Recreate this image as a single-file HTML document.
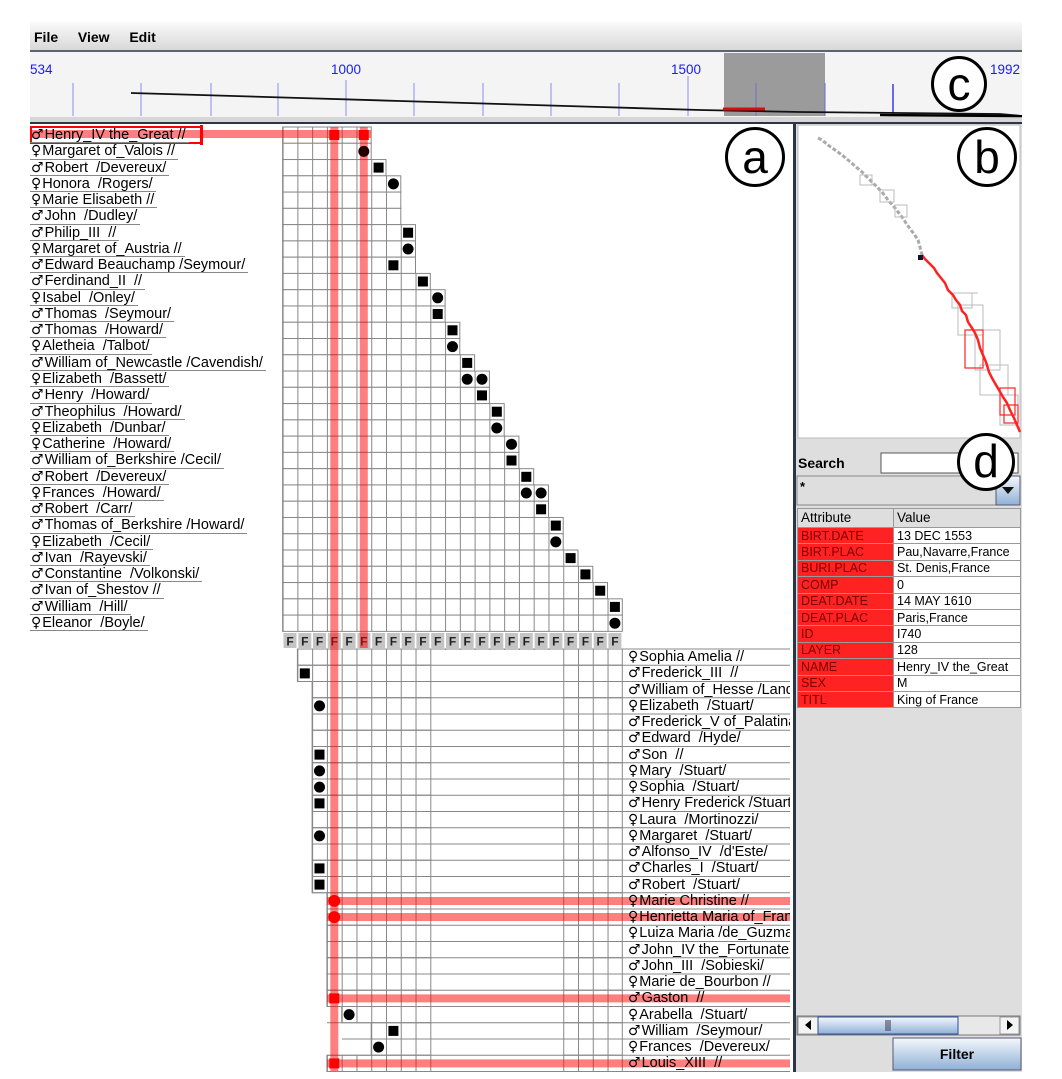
<!DOCTYPE html>
<html><head><meta charset="utf-8">
<style>
*{margin:0;padding:0;box-sizing:border-box}
body{width:1062px;height:1079px;background:#fff;position:relative;overflow:hidden;font-family:"Liberation Sans",Arial,sans-serif}
.abs{position:absolute}
.lbl{position:absolute;left:30px;top:127px;font-size:14.5px;color:#000}
.lbl div{height:16.27px;white-space:nowrap}
.lbl span{display:inline-block;height:16.27px;line-height:16px;border-bottom:1px solid #888;padding-left:1px;padding-right:3px}
.blbl{position:absolute;left:626px;top:649px;width:164px;overflow:hidden;font-size:14.5px}
.blbl div{height:16.25px;line-height:16px;white-space:nowrap;padding-left:2px}
.g{font-family:"DejaVu Sans",sans-serif;font-size:14px;font-weight:normal;margin-right:1px}
table.attr{position:absolute;left:797px;top:508px;width:224px;border-collapse:collapse;font-size:12.5px}
table.attr td{height:16.4px;border:1px solid #999;padding:0 3px;line-height:14px;white-space:nowrap;overflow:hidden}
table.attr td.a{background:#f22;color:#7a0000;width:96px}
table.attr td.v{background:#fff;color:#000}
table.attr tr.h td{background:#dedede;color:#000;height:19px;font-size:13.5px}
.circ{position:absolute;border:3px solid #000;border-radius:50%;background:#fff;text-align:center;font-size:46px;font-family:"Liberation Sans",sans-serif;line-height:50px}
</style></head><body>
<svg class="abs" style="left:0;top:0" width="1062" height="1079" xmlns="http://www.w3.org/2000/svg">
<defs>
<pattern id="vp" x="282.6" y="0" width="14.77" height="2000" patternUnits="userSpaceOnUse"><rect width="14.77" height="2000" fill="#fff"/><line x1="0.5" y1="0" x2="0.5" y2="2000" stroke="#888" stroke-width="1"/></pattern>
<linearGradient id="mb" x1="0" y1="0" x2="0" y2="1"><stop offset="0" stop-color="#fafafa"/><stop offset="1" stop-color="#d8d8d8"/></linearGradient>
<linearGradient id="bt" x1="0" y1="0" x2="0" y2="1"><stop offset="0" stop-color="#f4f8fc"/><stop offset="1" stop-color="#8fb0d6"/></linearGradient>
</defs>
<rect x="30" y="22" width="992" height="28" fill="url(#mb)"/>
<rect x="30" y="50" width="992" height="2" fill="#5a6474"/>
<rect x="30" y="52" width="992" height="65" fill="#f4f4f4"/>
<rect x="30" y="117" width="992" height="5" fill="#d6d6d6"/>
<rect x="30" y="122" width="992" height="2" fill="#2a3548"/>
<g stroke="#8c8cf0" stroke-width="1">
<line x1="73" y1="83" x2="73" y2="116"/><line x1="141" y1="83" x2="141" y2="116"/><line x1="211" y1="83" x2="211" y2="116"/><line x1="278" y1="83" x2="278" y2="116"/><line x1="346" y1="80" x2="346" y2="116"/><line x1="414" y1="83" x2="414" y2="116"/><line x1="483" y1="83" x2="483" y2="116"/><line x1="551" y1="83" x2="551" y2="116"/><line x1="619" y1="83" x2="619" y2="116"/><line x1="688" y1="76" x2="688" y2="116"/><line x1="756" y1="83" x2="756" y2="116"/>
</g>
<rect x="724" y="53" width="101" height="63" fill="#9b9b9b"/>
<line x1="756" y1="83" x2="756" y2="116" stroke="#7070c0"/>
<line x1="825" y1="83" x2="825" y2="116" stroke="#6a6ae0"/>
<line x1="893" y1="84" x2="893" y2="116" stroke="#3a3af0" stroke-width="1.5"/>
<polyline points="131,93 200,95 300,98 400,101 500,104 600,107 700,110 800,112 900,113 1000,114 1022,116" fill="none" stroke="#111" stroke-width="1.8"/>
<polyline points="880,115 1022,116" stroke="#000" stroke-width="2.5"/>
<rect x="723" y="107.5" width="42" height="3" fill="#d01010"/>
<rect x="793" y="124" width="3" height="948" fill="#2a3548"/>
<g fill="url(#vp)" stroke="#888" stroke-width="1">
<rect x="282.6" y="127" width="88.6" height="16.27"/>
<rect x="282.6" y="143.27" width="88.6" height="16.27"/>
<rect x="282.6" y="159.54" width="103.4" height="16.27"/>
<rect x="282.6" y="175.81" width="118.2" height="16.27"/>
<rect x="282.6" y="192.08" width="118.2" height="16.27"/>
<rect x="282.6" y="208.35" width="118.2" height="16.27"/>
<rect x="282.6" y="224.62" width="132.9" height="16.27"/>
<rect x="282.6" y="240.89" width="132.9" height="16.27"/>
<rect x="282.6" y="257.16" width="132.9" height="16.27"/>
<rect x="282.6" y="273.43" width="147.7" height="16.27"/>
<rect x="282.6" y="289.7" width="162.5" height="16.27"/>
<rect x="282.6" y="305.97" width="162.5" height="16.27"/>
<rect x="282.6" y="322.24" width="177.2" height="16.27"/>
<rect x="282.6" y="338.51" width="177.2" height="16.27"/>
<rect x="282.6" y="354.78" width="192" height="16.27"/>
<rect x="282.6" y="371.05" width="206.8" height="16.27"/>
<rect x="282.6" y="387.32" width="206.8" height="16.27"/>
<rect x="282.6" y="403.59" width="221.6" height="16.27"/>
<rect x="282.6" y="419.86" width="221.6" height="16.27"/>
<rect x="282.6" y="436.13" width="236.3" height="16.27"/>
<rect x="282.6" y="452.4" width="236.3" height="16.27"/>
<rect x="282.6" y="468.67" width="251.1" height="16.27"/>
<rect x="282.6" y="484.94" width="265.9" height="16.27"/>
<rect x="282.6" y="501.21" width="265.9" height="16.27"/>
<rect x="282.6" y="517.48" width="280.6" height="16.27"/>
<rect x="282.6" y="533.75" width="280.6" height="16.27"/>
<rect x="282.6" y="550.02" width="295.4" height="16.27"/>
<rect x="282.6" y="566.29" width="310.2" height="16.27"/>
<rect x="282.6" y="582.56" width="324.9" height="16.27"/>
<rect x="282.6" y="598.83" width="339.7" height="16.27"/>
<rect x="282.6" y="615.1" width="339.7" height="16.27"/>
</g>
<g fill="url(#vp)" stroke="#888" stroke-width="1">
<rect x="297.4" y="649" width="324.9" height="16.25"/>
<rect x="297.4" y="665.25" width="324.9" height="16.25"/>
<rect x="312.1" y="681.5" width="310.2" height="16.25"/>
<rect x="312.1" y="697.75" width="310.2" height="16.25"/>
<rect x="312.1" y="714" width="310.2" height="16.25"/>
<rect x="312.1" y="730.25" width="310.2" height="16.25"/>
<rect x="312.1" y="746.5" width="310.2" height="16.25"/>
<rect x="312.1" y="762.75" width="310.2" height="16.25"/>
<rect x="312.1" y="779" width="310.2" height="16.25"/>
<rect x="312.1" y="795.25" width="310.2" height="16.25"/>
<rect x="312.1" y="811.5" width="310.2" height="16.25"/>
<rect x="312.1" y="827.75" width="310.2" height="16.25"/>
<rect x="312.1" y="844" width="310.2" height="16.25"/>
<rect x="312.1" y="860.25" width="310.2" height="16.25"/>
<rect x="312.1" y="876.5" width="310.2" height="16.25"/>
<rect x="326.9" y="892.75" width="295.4" height="16.25"/>
<rect x="326.9" y="909" width="295.4" height="16.25"/>
<rect x="326.9" y="925.25" width="295.4" height="16.25"/>
<rect x="326.9" y="941.5" width="295.4" height="16.25"/>
<rect x="326.9" y="957.75" width="295.4" height="16.25"/>
<rect x="326.9" y="974" width="295.4" height="16.25"/>
<rect x="326.9" y="990.25" width="295.4" height="16.25"/>
<rect x="341.7" y="1006.5" width="280.6" height="16.25"/>
<rect x="371.2" y="1022.75" width="251.1" height="16.25"/>
<rect x="371.2" y="1039" width="251.1" height="16.25"/>
<rect x="326.9" y="1055.25" width="295.4" height="16.25"/>
</g>
<rect x="431.5" y="650" width="131" height="421" fill="#fff"/>
<g stroke="#888" stroke-width="1">
<line x1="297" y1="649" x2="790" y2="649"/><line x1="297" y1="665.25" x2="790" y2="665.25"/><line x1="297" y1="681.5" x2="790" y2="681.5"/><line x1="312" y1="697.75" x2="790" y2="697.75"/><line x1="312" y1="714" x2="790" y2="714"/><line x1="312" y1="730.25" x2="790" y2="730.25"/><line x1="312" y1="746.5" x2="790" y2="746.5"/><line x1="312" y1="762.75" x2="790" y2="762.75"/><line x1="312" y1="779" x2="790" y2="779"/><line x1="312" y1="795.25" x2="790" y2="795.25"/><line x1="312" y1="811.5" x2="790" y2="811.5"/><line x1="312" y1="827.75" x2="790" y2="827.75"/><line x1="312" y1="844" x2="790" y2="844"/><line x1="312" y1="860.25" x2="790" y2="860.25"/><line x1="312" y1="876.5" x2="790" y2="876.5"/><line x1="312" y1="892.75" x2="790" y2="892.75"/><line x1="327" y1="909" x2="790" y2="909"/><line x1="327" y1="925.25" x2="790" y2="925.25"/><line x1="327" y1="941.5" x2="790" y2="941.5"/><line x1="327" y1="957.75" x2="790" y2="957.75"/><line x1="327" y1="974" x2="790" y2="974"/><line x1="327" y1="990.25" x2="790" y2="990.25"/><line x1="327" y1="1006.5" x2="790" y2="1006.5"/><line x1="327" y1="1022.75" x2="790" y2="1022.75"/><line x1="342" y1="1039" x2="790" y2="1039"/><line x1="327" y1="1055.25" x2="790" y2="1055.25"/><line x1="327" y1="1071.5" x2="790" y2="1071.5"/>
</g>
<g fill="#c4c4c4">
<rect x="283.5" y="633" width="13" height="15"/><rect x="298.3" y="633" width="13" height="15"/><rect x="313" y="633" width="13" height="15"/><rect x="327.8" y="633" width="13" height="15"/><rect x="342.6" y="633" width="13" height="15"/><rect x="357.4" y="633" width="13" height="15"/><rect x="372.1" y="633" width="13" height="15"/><rect x="386.9" y="633" width="13" height="15"/><rect x="401.7" y="633" width="13" height="15"/><rect x="416.4" y="633" width="13" height="15"/><rect x="431.2" y="633" width="13" height="15"/><rect x="446" y="633" width="13" height="15"/><rect x="460.7" y="633" width="13" height="15"/><rect x="475.5" y="633" width="13" height="15"/><rect x="490.3" y="633" width="13" height="15"/><rect x="505" y="633" width="13" height="15"/><rect x="519.8" y="633" width="13" height="15"/><rect x="534.6" y="633" width="13" height="15"/><rect x="549.4" y="633" width="13" height="15"/><rect x="564.1" y="633" width="13" height="15"/><rect x="578.9" y="633" width="13" height="15"/><rect x="593.7" y="633" width="13" height="15"/><rect x="608.4" y="633" width="13" height="15"/>
</g>
<g font-family="Liberation Sans,sans-serif" font-weight="bold" font-size="12" fill="#222" text-anchor="middle">
<text x="290" y="645.5">F</text><text x="304.8" y="645.5">F</text><text x="319.5" y="645.5">F</text><text x="334.3" y="645.5">F</text><text x="349.1" y="645.5">F</text><text x="363.8" y="645.5">F</text><text x="378.6" y="645.5">F</text><text x="393.4" y="645.5">F</text><text x="408.1" y="645.5">F</text><text x="422.9" y="645.5">F</text><text x="437.7" y="645.5">F</text><text x="452.5" y="645.5">F</text><text x="467.2" y="645.5">F</text><text x="482" y="645.5">F</text><text x="496.8" y="645.5">F</text><text x="511.5" y="645.5">F</text><text x="526.3" y="645.5">F</text><text x="541.1" y="645.5">F</text><text x="555.8" y="645.5">F</text><text x="570.6" y="645.5">F</text><text x="585.4" y="645.5">F</text><text x="600.2" y="645.5">F</text><text x="614.9" y="645.5">F</text>
</g>
<g fill="#ff0000" fill-opacity="0.5">
<rect x="30" y="130" width="341" height="8"/>
<rect x="330.3" y="127" width="8" height="944"/>
<rect x="359.8" y="127" width="8" height="521"/>
<rect x="327" y="897" width="463" height="8"/>
<rect x="327" y="913" width="463" height="8"/>
<rect x="327" y="994.4" width="463" height="8"/>
<rect x="327" y="1059.4" width="463" height="8"/>
</g>
<rect x="31" y="127" width="170" height="16" fill="none" stroke="#f00" stroke-width="2"/>
<rect x="200" y="125" width="3" height="20" fill="#f00"/>
<g fill="#000">
<rect x="329.3" y="130" width="10" height="10" fill="#f00"/>
<rect x="358.8" y="130" width="10" height="10" fill="#f00"/>
<circle cx="363.8" cy="151.4" r="5.5" fill="#200"/>
<rect x="373.6" y="162.6" width="10" height="10"/>
<circle cx="393.4" cy="183.9" r="5.5"/>
<rect x="403.1" y="227.7" width="10" height="10"/>
<circle cx="408.1" cy="249" r="5.5"/>
<rect x="388.4" y="260.3" width="10" height="10"/>
<rect x="417.9" y="276.5" width="10" height="10"/>
<circle cx="437.7" cy="297.8" r="5.5"/>
<rect x="432.7" y="309" width="10" height="10"/>
<rect x="447.5" y="325.3" width="10" height="10"/>
<circle cx="452.5" cy="346.6" r="5.5"/>
<rect x="462.2" y="357.9" width="10" height="10"/>
<circle cx="467.2" cy="379.2" r="5.5"/><circle cx="482" cy="379.2" r="5.5"/>
<rect x="477" y="390.4" width="10" height="10"/>
<rect x="491.8" y="406.7" width="10" height="10"/>
<circle cx="496.8" cy="428" r="5.5"/>
<circle cx="511.5" cy="444.2" r="5.5"/>
<rect x="506.5" y="455.5" width="10" height="10"/>
<rect x="521.3" y="471.8" width="10" height="10"/>
<circle cx="526.3" cy="493" r="5.5"/><circle cx="541.1" cy="493" r="5.5"/>
<rect x="536.1" y="504.3" width="10" height="10"/>
<rect x="550.8" y="520.6" width="10" height="10"/>
<circle cx="555.8" cy="541.9" r="5.5"/>
<rect x="565.6" y="553.1" width="10" height="10"/>
<rect x="580.4" y="569.4" width="10" height="10"/>
<rect x="595.2" y="585.7" width="10" height="10"/>
<rect x="609.9" y="601.9" width="10" height="10"/>
<circle cx="614.9" cy="623.2" r="5.5"/>
<rect x="299.8" y="668.4" width="10" height="10"/>
<circle cx="319.5" cy="705.9" r="5.5"/>
<rect x="314.5" y="749.6" width="10" height="10"/>
<circle cx="319.5" cy="770.9" r="5.5"/>
<circle cx="319.5" cy="787.1" r="5.5"/>
<rect x="314.5" y="798.4" width="10" height="10"/>
<circle cx="319.5" cy="835.9" r="5.5"/>
<rect x="314.5" y="863.4" width="10" height="10"/>
<rect x="314.5" y="879.6" width="10" height="10"/>
<circle cx="334.3" cy="900.9" r="6" fill="#f00"/>
<circle cx="334.3" cy="917.1" r="6" fill="#f00"/>
<rect x="329.3" y="993.4" width="10" height="10" fill="#f00"/>
<circle cx="349.1" cy="1014.6" r="5.5"/>
<rect x="388.4" y="1025.9" width="10" height="10"/>
<circle cx="378.6" cy="1047.1" r="5.5"/>
<rect x="329.3" y="1058.4" width="10" height="10" fill="#f00"/>
</g>
<rect x="796" y="124" width="226" height="948" fill="#dedede"/>
<rect x="798" y="125" width="222" height="313" fill="#fff" stroke="#bbb"/>
<polyline points="818,138 822,140 828,145 835,150 842,155 848,160 855,166 862,172 868,178 875,185 882,192 888,200 895,208 902,217 908,226 914,234 918,240 920,247 922,255" fill="none" stroke="#aaa" stroke-width="3" stroke-dasharray="4,2"/>
<g fill="none" stroke="#bbb" stroke-width="1">
<rect x="860" y="175" width="12" height="10"/><rect x="880" y="190" width="14" height="12"/><rect x="895" y="205" width="12" height="12"/><rect x="952" y="293" width="20" height="15"/><rect x="958" y="305" width="25" height="30"/><rect x="975" y="330" width="25" height="40"/><rect x="980" y="365" width="28" height="30"/><rect x="1000" y="395" width="18" height="30"/>
<line x1="950" y1="293" x2="978" y2="293"/>
</g>
<polyline points="922,255 925,259 930,264 934,268 937,273 941,278 945,283 948,290 953,295 956,300 960,305 962,311 966,315 968,322 972,328 975,333 978,340 980,348 983,355 986,362 989,372 992,378 996,385 999,390 1003,397 1007,403 1010,410 1014,418 1017,425 1020,432" fill="none" stroke="#f22" stroke-width="2.5"/>
<g fill="none" stroke="#f22" stroke-width="1.2"><rect x="965" y="330" width="18" height="38"/><rect x="1000" y="388" width="15" height="27"/><rect x="1004" y="405" width="14" height="18"/></g>
<rect x="918" y="255" width="5" height="5" fill="#113"/>
<rect x="881" y="453" width="137" height="20" fill="#fff" stroke="#555"/>
<rect x="797" y="476" width="199" height="29" fill="#dedede" stroke="#888"/>
<rect x="996" y="476" width="24" height="29" fill="url(#bt)" stroke="#557"/>
<polygon points="1002,487 1014,487 1008,494" fill="#111"/>
<rect x="797" y="1016" width="223" height="19" fill="#e8e8e8" stroke="#777"/>
<rect x="798" y="1017" width="20" height="17" fill="#f4f4f4" stroke="#999"/>
<polygon points="811,1020 811,1030 805,1025" fill="#000"/>
<rect x="818" y="1017" width="140" height="17" fill="url(#bt)" stroke="#2a4ea0"/>
<line x1="886" y1="1020" x2="886" y2="1031" stroke="#335"/><line x1="888" y1="1020" x2="888" y2="1031" stroke="#335"/><line x1="890" y1="1020" x2="890" y2="1031" stroke="#335"/>
<rect x="1000" y="1017" width="19" height="17" fill="#f4f4f4" stroke="#999"/>
<polygon points="1007,1020 1007,1030 1013,1025" fill="#000"/>
<rect x="893" y="1038" width="128" height="32" fill="url(#bt)" stroke="#557"/>
</svg>

<div class="abs" style="left:34px;top:29px;font-size:14px;font-weight:bold;word-spacing:6px">File&nbsp; View&nbsp; Edit</div>
<div class="abs" style="left:30px;top:62px;font-size:13.5px;color:#1a1aff">534</div>
<div class="abs" style="left:331px;top:62px;font-size:13.5px;color:#1a1aff">1000</div>
<div class="abs" style="left:671px;top:62px;font-size:13.5px;color:#1a1aff">1500</div>
<div class="abs" style="left:990px;top:62px;font-size:13.5px;color:#1a1aff">1992</div>

<div class="lbl">
<div><span><b class="g">♂</b>Henry_IV the_Great //</span></div>
<div><span><b class="g">♀</b>Margaret of_Valois //</span></div>
<div><span><b class="g">♂</b>Robert&nbsp; /Devereux/</span></div>
<div><span><b class="g">♀</b>Honora&nbsp; /Rogers/</span></div>
<div><span><b class="g">♀</b>Marie Elisabeth //</span></div>
<div><span><b class="g">♂</b>John&nbsp; /Dudley/</span></div>
<div><span><b class="g">♂</b>Philip_III&nbsp; //</span></div>
<div><span><b class="g">♀</b>Margaret of_Austria //</span></div>
<div><span><b class="g">♂</b>Edward Beauchamp /Seymour/</span></div>
<div><span><b class="g">♂</b>Ferdinand_II&nbsp; //</span></div>
<div><span><b class="g">♀</b>Isabel&nbsp; /Onley/</span></div>
<div><span><b class="g">♂</b>Thomas&nbsp; /Seymour/</span></div>
<div><span><b class="g">♂</b>Thomas&nbsp; /Howard/</span></div>
<div><span><b class="g">♀</b>Aletheia&nbsp; /Talbot/</span></div>
<div><span><b class="g">♂</b>William of_Newcastle /Cavendish/</span></div>
<div><span><b class="g">♀</b>Elizabeth&nbsp; /Bassett/</span></div>
<div><span><b class="g">♂</b>Henry&nbsp; /Howard/</span></div>
<div><span><b class="g">♂</b>Theophilus&nbsp; /Howard/</span></div>
<div><span><b class="g">♀</b>Elizabeth&nbsp; /Dunbar/</span></div>
<div><span><b class="g">♀</b>Catherine&nbsp; /Howard/</span></div>
<div><span><b class="g">♂</b>William of_Berkshire /Cecil/</span></div>
<div><span><b class="g">♂</b>Robert&nbsp; /Devereux/</span></div>
<div><span><b class="g">♀</b>Frances&nbsp; /Howard/</span></div>
<div><span><b class="g">♂</b>Robert&nbsp; /Carr/</span></div>
<div><span><b class="g">♂</b>Thomas of_Berkshire /Howard/</span></div>
<div><span><b class="g">♀</b>Elizabeth&nbsp; /Cecil/</span></div>
<div><span><b class="g">♂</b>Ivan&nbsp; /Rayevski/</span></div>
<div><span><b class="g">♂</b>Constantine&nbsp; /Volkonski/</span></div>
<div><span><b class="g">♂</b>Ivan of_Shestov //</span></div>
<div><span><b class="g">♂</b>William&nbsp; /Hill/</span></div>
<div><span><b class="g">♀</b>Eleanor&nbsp; /Boyle/</span></div>
</div>

<div class="blbl">
<div><b class="g">♀</b>Sophia Amelia //</div>
<div><b class="g">♂</b>Frederick_III&nbsp; //</div>
<div><b class="g">♂</b>William of_Hesse /Landgrave/</div>
<div><b class="g">♀</b>Elizabeth&nbsp; /Stuart/</div>
<div><b class="g">♂</b>Frederick_V of_Palatinate</div>
<div><b class="g">♂</b>Edward&nbsp; /Hyde/</div>
<div><b class="g">♂</b>Son&nbsp; //</div>
<div><b class="g">♀</b>Mary&nbsp; /Stuart/</div>
<div><b class="g">♀</b>Sophia&nbsp; /Stuart/</div>
<div><b class="g">♂</b>Henry Frederick /Stuart/</div>
<div><b class="g">♀</b>Laura&nbsp; /Mortinozzi/</div>
<div><b class="g">♀</b>Margaret&nbsp; /Stuart/</div>
<div><b class="g">♂</b>Alfonso_IV&nbsp; /d'Este/</div>
<div><b class="g">♂</b>Charles_I&nbsp; /Stuart/</div>
<div><b class="g">♂</b>Robert&nbsp; /Stuart/</div>
<div><b class="g">♀</b>Marie Christine //</div>
<div><b class="g">♀</b>Henrietta Maria of_France</div>
<div><b class="g">♀</b>Luiza Maria /de_Guzman/</div>
<div><b class="g">♂</b>John_IV the_Fortunate</div>
<div><b class="g">♂</b>John_III&nbsp; /Sobieski/</div>
<div><b class="g">♀</b>Marie de_Bourbon //</div>
<div><b class="g">♂</b>Gaston&nbsp; //</div>
<div><b class="g">♀</b>Arabella&nbsp; /Stuart/</div>
<div><b class="g">♂</b>William&nbsp; /Seymour/</div>
<div><b class="g">♀</b>Frances&nbsp; /Devereux/</div>
<div><b class="g">♂</b>Louis_XIII&nbsp; //</div>
</div>

<div class="abs" style="left:798px;top:455px;font-size:14px;font-weight:bold">Search</div>
<div class="abs" style="left:800px;top:479px;font-size:13px;font-weight:bold">*</div>
<table class="attr">
<tr class="h"><td style="width:96px">Attribute</td><td>Value</td></tr>
<tr><td class="a">BIRT.DATE</td><td class="v">13 DEC 1553</td></tr>
<tr><td class="a">BIRT.PLAC</td><td class="v">Pau,Navarre,France</td></tr>
<tr><td class="a">BURI.PLAC</td><td class="v">St. Denis,France</td></tr>
<tr><td class="a">COMP</td><td class="v">0</td></tr>
<tr><td class="a">DEAT.DATE</td><td class="v">14 MAY 1610</td></tr>
<tr><td class="a">DEAT.PLAC</td><td class="v">Paris,France</td></tr>
<tr><td class="a">ID</td><td class="v">I740</td></tr>
<tr><td class="a">LAYER</td><td class="v">128</td></tr>
<tr><td class="a">NAME</td><td class="v">Henry_IV the_Great</td></tr>
<tr><td class="a">SEX</td><td class="v">M</td></tr>
<tr><td class="a">TITL</td><td class="v">King of France</td></tr>
</table>
<div class="abs" style="left:893px;top:1046px;width:128px;text-align:center;font-size:14px;font-weight:bold">Filter</div>

<div class="circ" style="left:931px;top:56px;width:56px;height:56px;line-height:50px">c</div>
<div class="circ" style="left:725px;top:127px;width:60px;height:60px;line-height:54px">a</div>
<div class="circ" style="left:957px;top:127px;width:60px;height:60px;line-height:54px">b</div>
<div class="circ" style="left:957px;top:433px;width:58px;height:58px;line-height:50px">d</div>
</body></html>
